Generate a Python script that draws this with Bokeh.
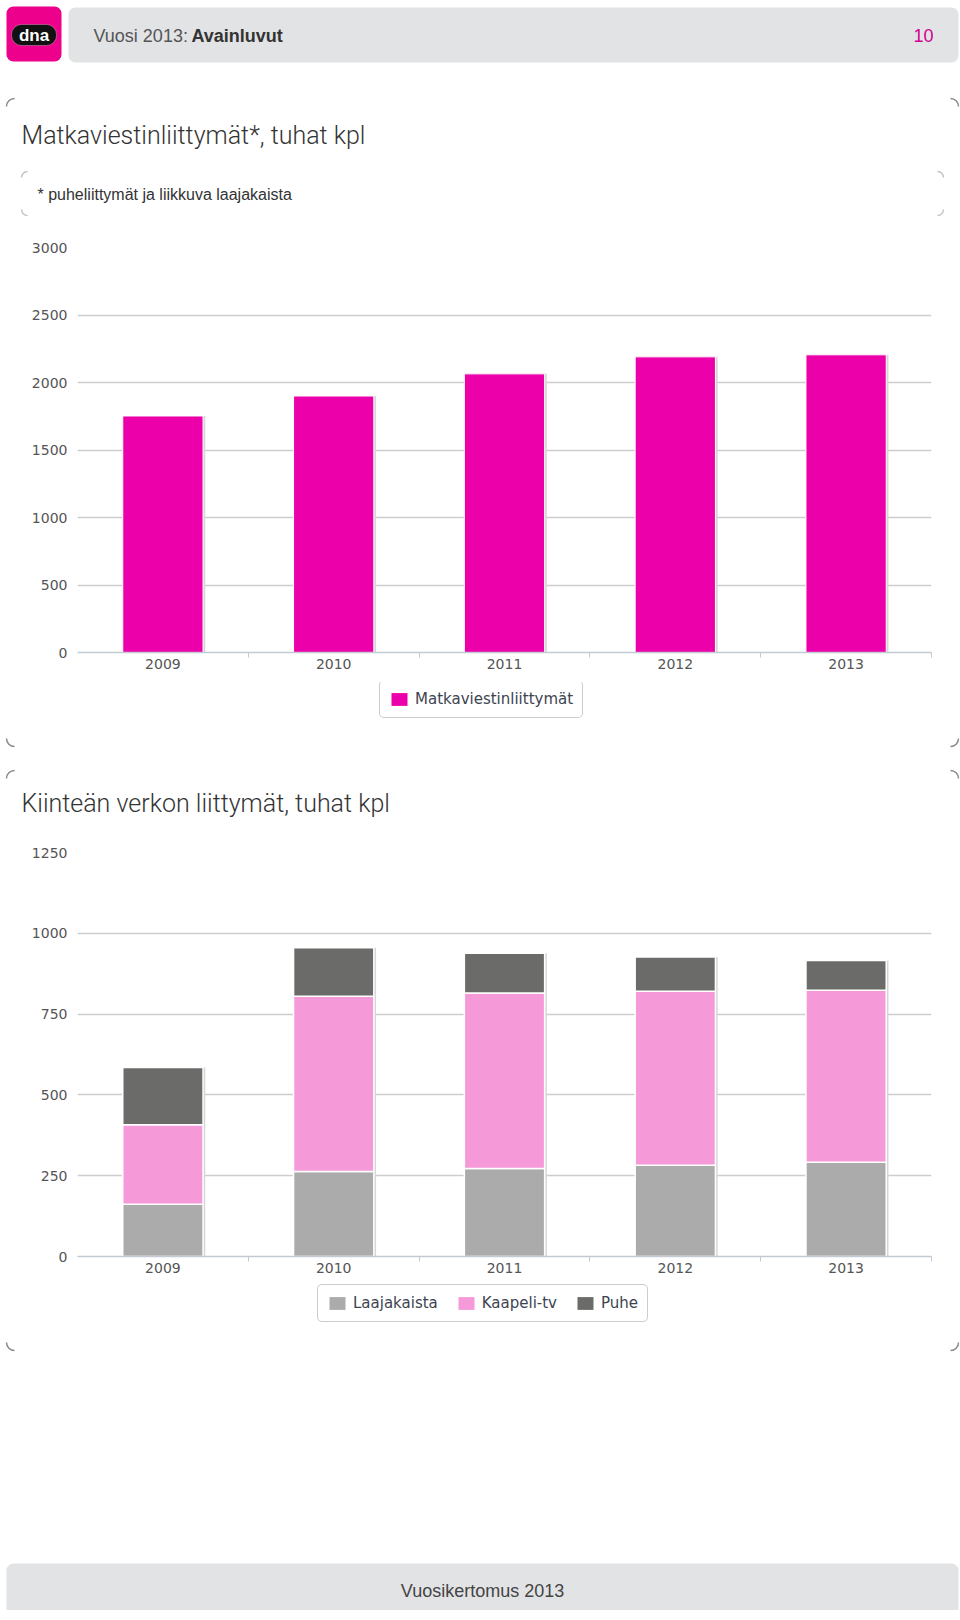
import math
from bokeh.plotting import figure
from bokeh.models import (Range1d, FixedTicker, Label, BoxAnnotation, Legend,
                          LegendItem, ColumnDataSource)
from bokeh.embed import file_html
from bokeh.resources import INLINE
from bokeh.transform import dodge

# ---------------- data ----------------
years = ["2009", "2010", "2011", "2012", "2013"]
mobile = [1752, 1900, 2064, 2190, 2205]
laajakaista = [162, 263, 272, 282, 292]
kaapeli_tv = [246, 542, 543, 539, 532]
puhe = [177, 150, 123, 106, 92]
y1_ticks = [0, 500, 1000, 1500, 2000, 2500, 3000]
y2_ticks = [0, 250, 500, 750, 1000, 1250]

title1 = "Matkaviestinliittymät*, tuhat kpl"
subtitle1 = "* puheliittymät ja liikkuva laajakaista"
title2 = "Kiinteän verkon liittymät, tuhat kpl"
legend1 = ["Matkaviestinliittymät"]
legend2 = ["Laajakaista", "Kaapeli-tv", "Puhe"]

# ---------------- styles ----------------
W = 960
MAGENTA = "#ec00a9"
C_LAAJA = "#ababab"
C_KAAPELI = "#f599d9"
C_PUHE = "#6b6b69"
GRID = "#cdcdcd"
TICKC = "#555555"
AXIS_FONT = "DejaVu Sans"
TITLE_FONT = "Roboto Light"


class Deco:
    def __init__(self, top, height):
        self.top = top
        self.h = height
        p = figure(width=W, height=height, x_range=Range1d(0, W), y_range=Range1d(0, height),
                   output_backend="svg", toolbar_location=None,
                   x_axis_location=None, y_axis_location=None, min_border=0)
        p.grid.visible = False
        p.outline_line_color = None
        self.p = p

    def Y(self, py):
        return self.top + self.h - py

    def box(self, x0, x1, y0, y1, color, r=6, line=None):
        self.p.add_layout(BoxAnnotation(left=x0, right=x1, top=self.Y(y0), bottom=self.Y(y1),
                                        fill_color=color, fill_alpha=1,
                                        line_color=line, border_radius=r))

    def text(self, x, y, t, size, color, font="Liberation Sans", style="normal",
             align="left", baseline="middle"):
        self.p.add_layout(Label(x=x, y=self.Y(y), text=t, text_font=font,
                                text_font_size=f"{size}px", text_color=color,
                                text_font_style=style, text_align=align,
                                text_baseline=baseline))

    def corners(self, x0, x1, y0, y1, r=8, color="#8a8a8a", which="all"):
        spec = []
        if which in ("all", "top"):
            spec += [(x0 + r, y0 + r, 90, 180), (x1 - r, y0 + r, 0, 90)]
        if which in ("all", "bottom"):
            spec += [(x0 + r, y1 - r, 180, 270), (x1 - r, y1 - r, 270, 360)]
        for cx, cy, a0, a1 in spec:
            self.p.arc(x=[cx], y=[self.Y(cy)], radius=r,
                       start_angle=math.radians(a0), end_angle=math.radians(a1),
                       line_color=color, line_width=1.5)

    def legend(self, labels, colors, left, bottom, spacing):
        items = []
        for lab, col in zip(labels, colors):
            # zero-size proxy renderer: only provides the legend swatch style
            src = ColumnDataSource(dict(x=[0], top=[0]))
            r = self.p.vbar(x="x", top="top", bottom=0, width=0, source=src,
                            fill_color=col, line_color=None)
            items.append(LegendItem(label=lab, renderers=[r]))
        lg = Legend(items=items, orientation="horizontal",
                    location=(left, self.top + self.h - bottom),
                    label_text_font=AXIS_FONT, label_text_font_size="15px",
                    label_text_color="#3d4450", glyph_width=20, glyph_height=16,
                    label_standoff=6, spacing=spacing, padding=9, margin=0,
                    border_line_color="#9a9a9a", border_line_width=1,
                    background_fill_color="white", background_fill_alpha=1)
        try:
            lg.border_radius = 5
        except Exception:
            pass
        self.p.add_layout(lg)


# ---------------- header / title 1 ----------------
H = Deco(0, 225)
H.box(6, 61, 6, 61, "#ec008c", r=7)
H.box(11, 56, 24, 45, "#111111", r=10, line="white")
H.text(33.5, 34.5, "dna", 17, "white", style="bold", align="center")
H.box(68, 958, 7, 62, "#e2e3e5", r=7)
H.text(93, 35, "Vuosi 2013:", 18, "#555555")
H.text(191, 35, "Avainluvut", 18, "#333333", style="bold")
H.text(933, 35, "10", 18, "#d4008f", align="right")
H.corners(6, 958, 98, 746, which="top")
H.text(21, 135, title1, 25, "#333333", font=TITLE_FONT)
H.corners(21, 943, 171, 215, r=6, color="#c4c4c4")
H.text(37, 194, subtitle1, 16, "#333333")


def chart(top, height, frame_top, frame_bottom, ymax, ticks):
    p = figure(width=W, height=height, x_range=Range1d(0, len(years)),
               y_range=Range1d(0, ymax), output_backend="svg", toolbar_location=None,
               min_border_left=77, min_border_right=W - 931,
               min_border_top=frame_top - top,
               min_border_bottom=top + height - frame_bottom)
    p.outline_line_color = None
    p.xgrid.visible = False
    p.ygrid.ticker = FixedTicker(ticks=ticks)
    p.ygrid.grid_line_color = GRID
    p.ygrid.grid_line_width = 1.5
    p.yaxis.ticker = FixedTicker(ticks=ticks)
    p.yaxis.axis_line_color = None
    p.yaxis.major_tick_line_color = None
    p.yaxis.minor_tick_line_color = None
    p.yaxis.major_label_standoff = 4
    p.yaxis.major_label_text_font = AXIS_FONT
    p.yaxis.major_label_text_font_size = "14px"
    p.yaxis.major_label_text_color = TICKC
    centers = [i + 0.5 for i in range(len(years))]
    p.xaxis.ticker = FixedTicker(ticks=centers,
                                 minor_ticks=[i + 1 for i in range(len(years))])
    p.xaxis.major_label_overrides = {c: y for c, y in zip(centers, years)}
    p.xaxis.axis_line_color = "#c3cad4"
    p.xaxis.axis_line_width = 1.5
    p.xaxis.major_tick_line_color = None
    p.xaxis.minor_tick_line_color = "#c3cad4"
    p.xaxis.minor_tick_in = 0
    p.xaxis.minor_tick_out = 5
    p.xaxis.major_label_standoff = 0
    p.xaxis.major_label_text_font = AXIS_FONT
    p.xaxis.major_label_text_font_size = "14px"
    p.xaxis.major_label_text_color = TICKC
    return p, centers


# ---------------- chart 1 ----------------
p1, cx = chart(225, 457, 247, 652, 3000, y1_ticks)
src1 = ColumnDataSource(dict(x=cx, top=mobile))
p1.vbar(x=dodge("x", 0.013), top="top", width=0.47, source=src1,
        fill_color="#d6d6d6", line_color=None)
p1.vbar(x="x", top="top", width=0.47, source=src1,
        fill_color=MAGENTA, line_color="white", line_width=1)

# ---------------- middle: legend 1, title 2 ----------------
M = Deco(682, 148)
M.legend(legend1, [MAGENTA], 379, 718, 12)
M.corners(6, 958, 98, 746, which="bottom")
M.corners(6, 958, 770, 1350, which="top")
M.text(21, 803, title2, 25, "#333333", font=TITLE_FONT)

# ---------------- chart 2 ----------------
p2, cx2 = chart(830, 454, 852, 1256, 1250, y2_ticks)
totals = [a + b + c for a, b, c in zip(laajakaista, kaapeli_tv, puhe)]
src2 = ColumnDataSource(dict(x=cx2, laajakaista=laajakaista, kaapeli_tv=kaapeli_tv,
                             puhe=puhe, total=totals))
p2.vbar(x=dodge("x", 0.013), top="total", width=0.47, source=src2,
        fill_color="#d6d6d6", line_color=None)
p2.vbar_stack(["laajakaista", "kaapeli_tv", "puhe"], x="x", width=0.47, source=src2,
              fill_color=[C_LAAJA, C_KAAPELI, C_PUHE], line_color="white",
              line_width=1.5)

# ---------------- footer: legend 2 ----------------
F = Deco(1284, 326)
F.legend(legend2, [C_LAAJA, C_KAAPELI, C_PUHE], 317, 1322, 18)
F.corners(6, 958, 770, 1350, which="bottom")
F.box(6, 958, 1563, 1640, "#e2e3e5", r=7)
F.text(482, 1590, "Vuosikertomus 2013", 18, "#444444", align="center")

open("out.html", "w").write(file_html([H.p, p1, M.p, p2, F.p], INLINE))
